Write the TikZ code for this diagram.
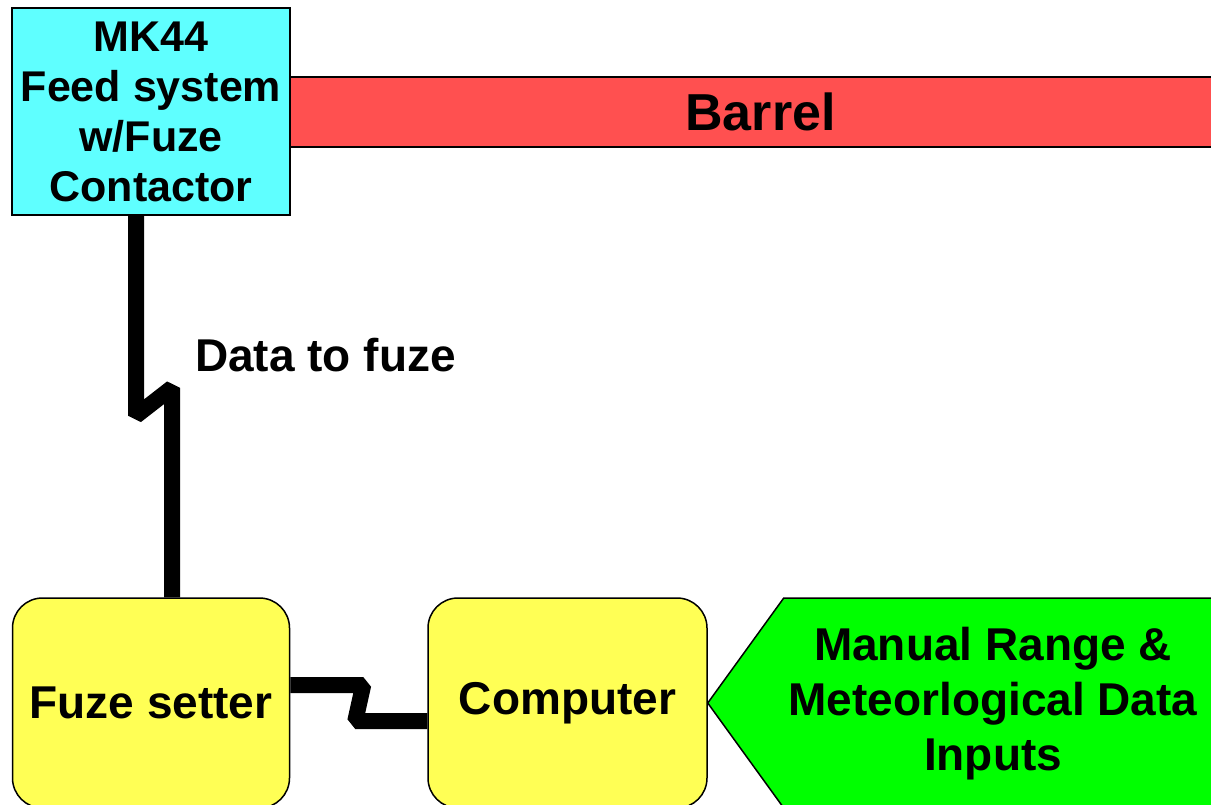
\documentclass[tikz,border=0pt]{standalone}
\usepackage{fontspec}
\setmainfont{Liberation Sans}
\usetikzlibrary{positioning}

\definecolor{feedcyan}{RGB}{95,255,255}
\definecolor{barrelred}{RGB}{255,80,80}
\definecolor{unityellow}{RGB}{255,255,85}
\definecolor{inputgreen}{RGB}{0,255,0}

\begin{document}
\begin{tikzpicture}[
    x=1pt, y=-1pt,
    box/.style={draw, line width=1.5pt, align=center, inner sep=0pt, font=\bfseries\fontsize{46}{55}\selectfont},
    unit/.style={box, rounded corners=30pt, fill=unityellow, minimum width=277pt, minimum height=210pt},
    bolt/.style={line width=16pt, line join=bevel}
  ]
    \useasboundingbox (0,0) rectangle (1211,804);

    \node[box, fill=barrelred, minimum width=941pt, minimum height=70pt, font=\bfseries\fontsize{52}{60}\selectfont] (barrel) at (760.5,112) {Barrel};
    \node[box, fill=feedcyan, minimum width=278pt, minimum height=207pt, font=\bfseries\fontsize{43}{50}\selectfont] (feed) at (151,111.5) {MK44\\Feed system\\w/Fuze\\Contactor};

    \node[unit] (setter) at (151,703) {Fuze setter};
    \node[unit, minimum width=279pt] (computer) at (567.5,703) {Computer};

    \draw[line width=1.5pt, fill=inputgreen] (computer.east) -- ++(76,-105) -- ++(460,0) -- ++(0,210) -- ++(-460,0) -- cycle;
    \node[align=center, inner sep=0pt, font=\bfseries\fontsize{46}{55}\selectfont] (inputs) at (993,704) {Manual Range \&\\Meteorlogical Data\\Inputs};

    \draw[bolt] ([xshift=-15pt]feed.south) -- ++(0,200) -- ++(36,-28) -- ([xshift=21pt]setter.north);
    \draw[bolt] ([yshift=18pt]setter.east) -- ++(73,0) -- ++(-8,36) -- ([yshift=-18pt]computer.west);

    \node[anchor=west, inner sep=0pt, font=\bfseries\fontsize{46}{55}\selectfont] (datalabel) at (195,355) {Data to fuze};
  \end{tikzpicture}
\end{document}
